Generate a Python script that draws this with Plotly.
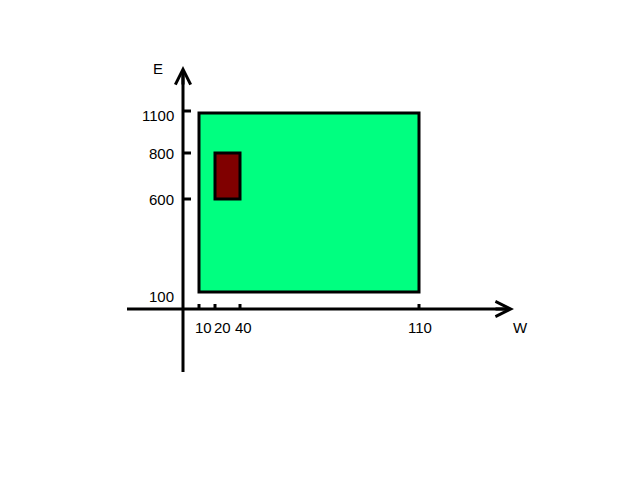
import plotly.graph_objects as go

# W / E values and where each sits on the (non-linear) schematic axes
w_values = [10, 20, 40, 110]
w_pos = [199, 215, 240, 419]
e_values = [100, 600, 800, 1100]
e_pos = [292, 199, 153, 113]

# rectangles: (w0, w1, e0, e1, colour)
rects = [
    (10, 110, 100, 1100, "#00ff80"),
    (20, 40, 600, 800, "#800000"),
]

wx = dict(zip(w_values, w_pos))
ey = dict(zip(e_values, e_pos))

fig = go.Figure()
shapes = []
for w0, w1, e0, e1, col in rects:
    shapes.append(dict(type="rect", x0=wx[w0], x1=wx[w1], y0=ey[e0], y1=ey[e1],
                       fillcolor=col, line=dict(color="black", width=3)))

# axes
shapes.append(dict(type="line", x0=183, x1=183, y0=372, y1=70, line=dict(color="black", width=3)))
shapes.append(dict(type="line", x0=127, x1=510, y0=309, y1=309, line=dict(color="black", width=3)))
for y in [111, 153, 199]:
    shapes.append(dict(type="line", x0=183, x1=191, y0=y, y1=y, line=dict(color="black", width=3)))
for x in w_pos:
    shapes.append(dict(type="line", x0=x, x1=x, y0=309, y1=304, line=dict(color="black", width=3)))

ann = [
    dict(x=183, y=66, ax=183, ay=86, axref="x", ayref="y", showarrow=True, arrowhead=5,
         arrowsize=1, arrowwidth=3, arrowcolor="black", text=""),
    dict(x=514, y=309, ax=494, ay=309, axref="x", ayref="y", showarrow=True, arrowhead=5,
         arrowsize=1, arrowwidth=3, arrowcolor="black", text=""),
    dict(x=158, y=68, text="E", showarrow=False),
    dict(x=520, y=327, text="W", showarrow=False),
]
label_y = {100: 296, 600: 199, 800: 153, 1100: 115}
for v in e_values:
    ann.append(dict(x=176, y=label_y[v], text=str(v), showarrow=False, xanchor="right"))
label_x = {10: 203, 20: 222, 40: 243, 110: 420}
for v in w_values:
    ann.append(dict(x=label_x[v], y=327, text=str(v), showarrow=False))

fig.update_layout(
    width=640, height=480, margin=dict(l=0, r=0, t=0, b=0),
    plot_bgcolor="white", paper_bgcolor="white", showlegend=False,
    xaxis=dict(range=[8, 648], visible=False),
    yaxis=dict(range=[488, 8], visible=False),
    shapes=shapes, annotations=ann,
    font=dict(family="Liberation Sans, Arial", size=15, color="black"),
)
fig.write_html("out.html")
